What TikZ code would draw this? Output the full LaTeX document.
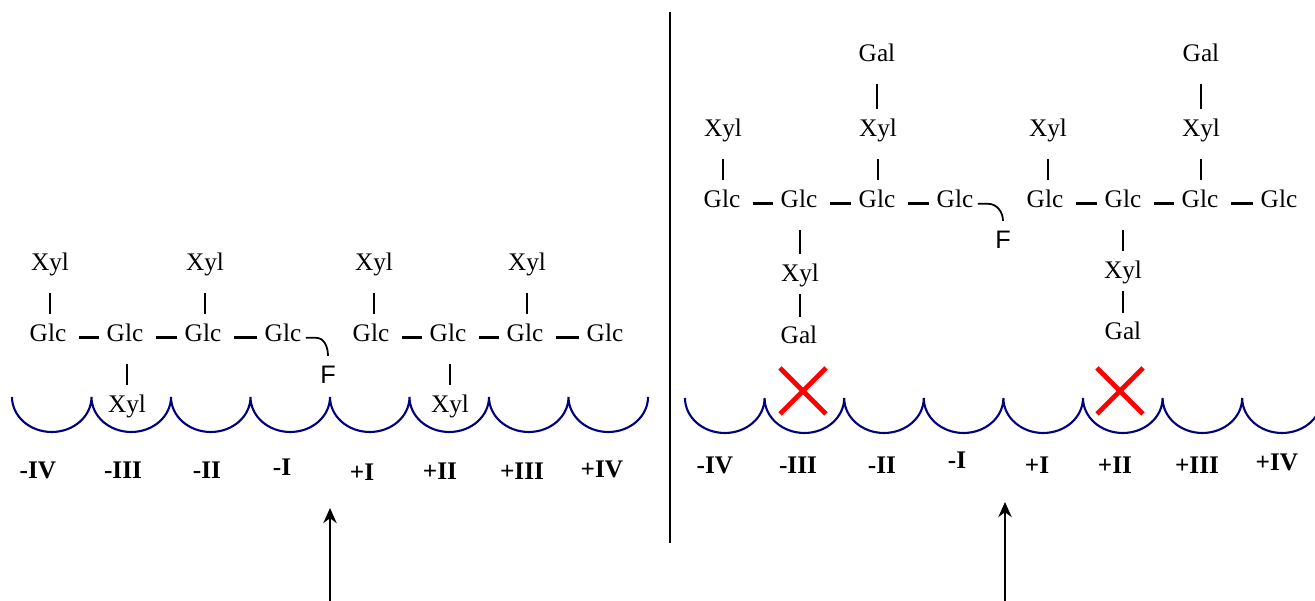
\documentclass[tikz,border=0pt]{standalone}
\usepackage{fontspec}
\setmainfont{Liberation Serif}
\newfontfamily\arialfont{Liberation Sans}
\usetikzlibrary{arrows.meta}
\definecolor{groovecol}{RGB}{0,0,128}

\begin{document}
\begin{tikzpicture}[
  sugar/.style={font=\fontsize{7.2}{8.6}\selectfont, inner sep=0pt, text height=5pt, text depth=1.5pt},
  fluor/.style={font=\arialfont\fontsize{7.2}{8.6}\selectfont, inner sep=0pt, text height=5pt, text depth=1.5pt},
  site/.style={font=\fontsize{7.2}{8.6}\selectfont\bfseries, inner sep=0pt},
  bond/.style={line width=0.85pt},
  hbond/.style={bond, shorten <=0.12cm, shorten >=0.07cm},
  vbond/.style={bond, shorten <=0.17cm, shorten >=0.09cm},
  galbond/.style={bond, shorten <=0.07cm, shorten >=0.08cm},
  hook/.style={line width=0.5pt},
  groove/.style={groovecol, line width=0.6pt},
  cut/.style={red, line width=1.4pt},
  cleave/.style={line width=0.6pt, -{Stealth[length=4.3pt, width=3.8pt]}}]
  \useasboundingbox (0,0) rectangle (13.15,6.01);
  \clip (0,0) rectangle (13.15,6.01);

  % left: XXXG-type oligosaccharide
  \node[sugar] (gl1) at (0.48,2.66) {Glc};
  \node[sugar] (gl2) at (1.25,2.66) {Glc};
  \node[sugar] (gl3) at (2.03,2.66) {Glc};
  \node[sugar] (gl4) at (2.83,2.66) {Glc};
  \node[sugar] (gl5) at (3.71,2.66) {Glc};
  \node[sugar] (gl6) at (4.48,2.66) {Glc};
  \node[sugar] (gl7) at (5.25,2.66) {Glc};
  \node[sugar] (gl8) at (6.05,2.66) {Glc};
  \node[sugar] (xl1) at (0.50,3.37) {Xyl};
  \node[sugar] (xl3) at (2.05,3.37) {Xyl};
  \node[sugar] (xl5) at (3.74,3.37) {Xyl};
  \node[sugar] (xl7) at (5.27,3.37) {Xyl};
  \node[sugar] (xl2) at (1.27,1.95) {Xyl};
  \node[sugar] (xl6) at (4.50,1.95) {Xyl};
  \node[fluor] (fl) at (3.28,2.24) {F};

  \draw[hbond] ([yshift=-0.8pt]gl1.east) -- ([yshift=-0.8pt]gl2.west);
  \draw[hbond] ([yshift=-0.8pt]gl2.east) -- ([yshift=-0.8pt]gl3.west);
  \draw[hbond] ([yshift=-0.8pt]gl3.east) -- ([yshift=-0.8pt]gl4.west);
  \draw[hbond] ([yshift=-0.8pt]gl5.east) -- ([yshift=-0.8pt]gl6.west);
  \draw[hbond] ([yshift=-0.8pt]gl6.east) -- ([yshift=-0.8pt]gl7.west);
  \draw[hbond] ([yshift=-0.8pt]gl7.east) -- ([yshift=-0.8pt]gl8.west);
  \draw[vbond] (xl1.south) -- (xl1.south |- gl1.north);
  \draw[vbond] (xl3.south) -- (xl3.south |- gl3.north);
  \draw[vbond] (xl5.south) -- (xl5.south |- gl5.north);
  \draw[vbond] (xl7.south) -- (xl7.south |- gl7.north);
  \draw[vbond] (xl2.north |- gl2.south) -- (xl2.north);
  \draw[vbond] (xl6.north |- gl6.south) -- (xl6.north);
  \draw[hook] ([xshift=0.04cm,yshift=-0.8pt]gl4.east) -- ++(0.1,0)
    to[out=0, in=90] ([yshift=0.09cm]fl.north);

  \draw[groove] (0.12,2.04) arc (180:360:0.3975 and 0.35) arc (180:360:0.3975 and 0.35)
    arc (180:360:0.3975 and 0.35) arc (180:360:0.3975 and 0.35) arc (180:360:0.3975 and 0.35)
    arc (180:360:0.3975 and 0.35) arc (180:360:0.3975 and 0.35) arc (180:360:0.3975 and 0.35);

  \node[site] (sl1) at (0.38,1.31) {-IV};
  \node[site] (sl2) at (1.23,1.31) {-III};
  \node[site] (sl3) at (2.07,1.31) {-II};
  \node[site] (sl4) at (2.82,1.34) {-I};
  \node[site] (sl5) at (3.62,1.29) {+I};
  \node[site] (sl6) at (4.40,1.30) {+II};
  \node[site] (sl7) at (5.22,1.30) {+III};
  \node[site] (sl8) at (6.02,1.32) {+IV};

  \coordinate (al0) at (3.30,0);
  \coordinate (al1) at (3.30,0.93);
  \draw[cleave] (al0) -- (al1);

  \coordinate (d0) at (6.70,5.89);
  \coordinate (d1) at (6.70,0.58);
  \draw[line width=0.6pt] (d0) -- (d1);

  % right: XLLG-type oligosaccharide
  \node[sugar] (gr1) at (7.22,4.00) {Glc};
  \node[sugar] (gr2) at (7.99,4.00) {Glc};
  \node[sugar] (gr3) at (8.77,4.00) {Glc};
  \node[sugar] (gr4) at (9.55,4.00) {Glc};
  \node[sugar] (gr5) at (10.45,4.00) {Glc};
  \node[sugar] (gr6) at (11.23,4.00) {Glc};
  \node[sugar] (gr7) at (12.00,4.00) {Glc};
  \node[sugar] (gr8) at (12.79,4.00) {Glc};
  \node[sugar] (xr1) at (7.23,4.71) {Xyl};
  \node[sugar] (xr3) at (8.78,4.71) {Xyl};
  \node[sugar] (xr5) at (10.48,4.71) {Xyl};
  \node[sugar] (xr7) at (12.01,4.71) {Xyl};
  \node[sugar] (ar3) at (8.77,5.46) {Gal};
  \node[sugar] (ar7) at (12.01,5.46) {Gal};
  \node[sugar] (xr2) at (8.00,3.26) {Xyl};
  \node[sugar] (xr6) at (11.23,3.29) {Xyl};
  \node[sugar] (ar2) at (7.99,2.64) {Gal};
  \node[sugar] (ar6) at (11.23,2.68) {Gal};
  \node[fluor] (fr) at (10.03,3.59) {F};

  \draw[hbond] ([yshift=-0.8pt]gr1.east) -- ([yshift=-0.8pt]gr2.west);
  \draw[hbond] ([yshift=-0.8pt]gr2.east) -- ([yshift=-0.8pt]gr3.west);
  \draw[hbond] ([yshift=-0.8pt]gr3.east) -- ([yshift=-0.8pt]gr4.west);
  \draw[hbond] ([yshift=-0.8pt]gr5.east) -- ([yshift=-0.8pt]gr6.west);
  \draw[hbond] ([yshift=-0.8pt]gr6.east) -- ([yshift=-0.8pt]gr7.west);
  \draw[hbond] ([yshift=-0.8pt]gr7.east) -- ([yshift=-0.8pt]gr8.west);
  \draw[vbond] (xr1.south) -- (xr1.south |- gr1.north);
  \draw[vbond] (xr3.south) -- (xr3.south |- gr3.north);
  \draw[vbond] (xr5.south) -- (xr5.south |- gr5.north);
  \draw[vbond] (xr7.south) -- (xr7.south |- gr7.north);
  \draw[vbond] (ar3.south) -- (ar3.south |- xr3.north);
  \draw[vbond] (ar7.south) -- (ar7.south |- xr7.north);
  \draw[vbond] (xr2.north |- gr2.south) -- (xr2.north);
  \draw[galbond] (xr2.south) -- (xr2.south |- ar2.north);
  \draw[vbond] (xr6.north |- gr6.south) -- (xr6.north);
  \draw[galbond] (xr6.south) -- (xr6.south |- ar6.north);
  \draw[hook] ([xshift=0.04cm,yshift=-0.8pt]gr4.east) -- ++(0.1,0)
    to[out=0, in=90] ([yshift=0.09cm]fr.north);

  \draw[groove] (6.85,2.03) arc (180:360:0.398 and 0.35) arc (180:360:0.398 and 0.35)
    arc (180:360:0.398 and 0.35) arc (180:360:0.398 and 0.35) arc (180:360:0.398 and 0.35)
    arc (180:360:0.398 and 0.35) arc (180:360:0.398 and 0.35) arc (180:360:0.398 and 0.35);

  % blocked subsites
  \draw[cut] (7.80,2.33) -- (8.26,1.87) (7.80,1.87) -- (8.26,2.33);
  \draw[cut] (10.97,2.33) -- (11.43,1.87) (10.97,1.87) -- (11.43,2.33);

  \node[site] (sr1) at (7.15,1.36) {-IV};
  \node[site] (sr2) at (7.98,1.36) {-III};
  \node[site] (sr3) at (8.82,1.36) {-II};
  \node[site] (sr4) at (9.57,1.41) {-I};
  \node[site] (sr5) at (10.37,1.36) {+I};
  \node[site] (sr6) at (11.15,1.36) {+II};
  \node[site] (sr7) at (11.97,1.36) {+III};
  \node[site] (sr8) at (12.77,1.39) {+IV};

  \coordinate (ar0) at (10.05,0);
  \coordinate (ar1) at (10.05,0.99);
  \draw[cleave] (ar0) -- (ar1);
\end{tikzpicture}
\end{document}
